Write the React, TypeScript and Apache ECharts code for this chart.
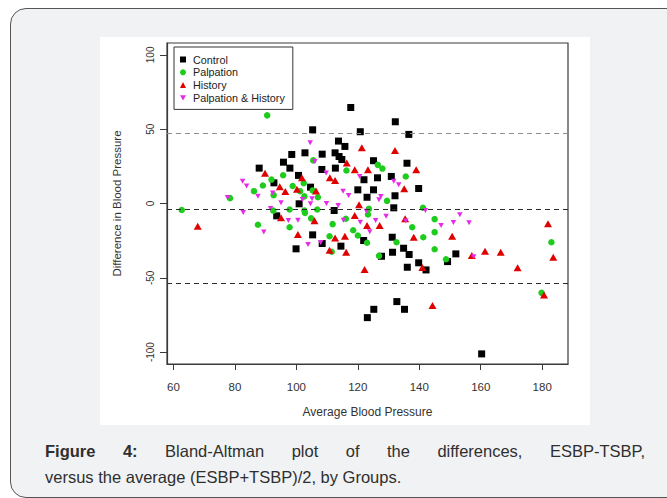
import React, { useEffect, useRef } from "react";
import * as echarts from "echarts";

const FONT = '"Liberation Sans", Arial, Helvetica, sans-serif';

const seriesNames = ["Control", "Palpation", "History", "Palpation & History"];

const controlPoints: number[][] = [
  [117.7, 64.6], [132.2, 55.0], [105.3, 49.6], [120.8, 48.3], [136.6, 46.5],
  [113.7, 42.0], [115.8, 38.4], [102.8, 34.1], [108.4, 33.2], [112.6, 34.1],
  [113.9, 31.6], [114.8, 29.6], [98.5, 33.0], [95.8, 27.8], [87.9, 23.8],
  [97.9, 23.8], [112.7, 23.8], [108.3, 22.9], [125.1, 28.8], [136.0, 27.1],
  [100.7, 18.9], [92.7, 13.9], [104.6, 11.0], [122.0, 16.0], [126.4, 17.3],
  [130.9, 18.2], [120.0, 9.2], [125.1, 9.2], [139.8, 10.1], [123.0, 4.2],
  [132.1, 5.2], [100.9, -0.2], [93.6, -8.3], [112.3, -4.7], [131.7, -2.9],
  [105.3, -21.1], [99.9, -30.5], [108.4, -26.9], [114.5, -28.7], [121.9, -24.9],
  [131.2, -22.7], [134.9, -30.1], [131.3, -32.8], [127.7, -35.5], [136.7, -34.3],
  [151.9, -33.9], [149.2, -39.1], [136.1, -42.9], [139.8, -39.9], [142.2, -44.7],
  [123.1, -76.8], [125.2, -71.2], [132.7, -66.0], [135.2, -71.2], [160.3, -101.2],
];

const palpationPoints: number[][] = [
  [90.5, 59.3], [62.7, -4.4], [78.4, 3.6], [86.2, 8.3], [89.1, 12.1],
  [91.9, 16.1], [95.7, 19.0], [92.6, 5.6], [98.8, 11.8], [101.2, 8.3],
  [102.6, 4.8], [102.4, 13.7], [97.8, -4.0], [102.6, -4.7], [87.5, -14.3],
  [97.8, -16.0], [104.8, -10.0], [106.8, -4.0], [105.3, 8.8], [105.5, 29.0],
  [111.8, -13.9], [110.8, -22.0], [111.5, -32.5], [116.1, -10.3], [116.3, 22.2],
  [92.5, -4.8], [126.5, 26.0], [128.0, 23.5], [135.6, 18.2], [107.0, 4.2],
  [129.5, 1.8], [141.2, -2.9], [118.5, -18.0], [120.0, -21.5], [123.3, -7.4],
  [123.0, -26.4], [126.9, -35.2], [132.6, -26.1], [137.7, -16.0], [141.3, -22.7],
  [145.0, -10.5], [145.0, -19.3], [145.0, -30.8], [148.7, -37.5], [183.0, -26.1],
  [179.8, -60.1], [102.8, -6.3], [123.6, -3.6],
];

const historyPoints: number[][] = [
  [67.9, -15.3], [89.8, 20.4], [94.6, 11.2], [96.4, 8.0], [100.2, 9.6],
  [95.0, -9.6], [105.9, -11.6], [100.5, -20.8], [110.8, -31.4], [116.2, -32.8],
  [112.6, -23.2], [115.8, -22.0], [106.4, 8.4], [110.9, 17.3], [112.6, 15.5],
  [116.4, 27.3], [121.3, 37.5], [132.1, 35.7], [119.0, 22.7], [123.3, 22.7],
  [139.0, 22.7], [135.1, 9.9], [101.8, 17.3], [120.4, -0.8], [119.0, -8.1],
  [123.0, -14.8], [127.1, -14.8], [138.2, -22.7], [150.7, -22.0], [135.4, -10.3],
  [122.2, -44.4], [141.0, -43.1], [157.1, -35.0], [161.4, -32.1], [166.5, -32.8],
  [172.0, -43.3], [181.9, -13.7], [183.6, -36.2], [180.6, -61.5], [144.3, -68.7],
];

const palpHistoryPoints: number[][] = [
  [77.6, 4.0], [82.5, 15.0], [83.8, 11.8], [82.7, -6.0], [87.5, 4.8],
  [89.4, -19.1], [92.3, 7.0], [91.6, -3.4], [95.0, 0.5], [97.4, -11.4],
  [100.5, -11.2], [102.0, 2.7], [103.8, -27.6], [104.5, 40.9], [106.0, 28.3],
  [109.7, 20.5], [109.8, 0.0], [107.9, -26.3], [113.6, -1.3], [115.2, 8.2],
  [117.0, 5.3], [115.3, -11.2], [105.1, 3.2], [120.6, 18.2], [127.5, 4.7],
  [131.7, 15.0], [133.3, 12.6], [122.8, -5.2], [126.9, 2.5], [104.6, -0.2],
  [123.9, -19.0], [129.2, -8.6], [135.6, -11.8], [142.0, -4.7], [147.1, -14.8],
  [151.1, -12.8], [153.2, -7.5], [156.2, -13.0], [157.7, -35.8], [120.8, -12.6],
  [125.8, -11.4],
];

// upper limit of agreement, mean difference, lower limit of agreement
const limitLines = [47.2, -3.6, -53.8];

const xTicks = [60, 80, 100, 120, 140, 160, 180];
const yTicks = [-100, -50, 0, 50, 100];

export default function App() {
  const ref = useRef<HTMLDivElement>(null);

  useEffect(() => {
    if (!ref.current) return;
    const chart = echarts.init(ref.current, null, { renderer: "svg" });
    const tickColor = "#3a3a3a";
    chart.setOption({
      animation: false,
      backgroundColor: "#ffffff",
      textStyle: { fontFamily: FONT },
      grid: {
        left: 67,
        right: 22,
        top: 6,
        bottom: 61,
        show: true,
        borderColor: "#3a3a3a",
        borderWidth: 1.2,
        backgroundColor: "transparent",
        outerBoundsMode: "none",
      },
      legend: {
        orient: "vertical",
        left: 74,
        top: 10,
        padding: [7, 8, 6, 6],
        itemGap: 1.8,
        itemWidth: 6,
        itemHeight: 6,
        borderColor: "#333",
        borderWidth: 1,
        borderRadius: 0,
        backgroundColor: "#fff",
        textStyle: {
          fontFamily: FONT,
          fontSize: 10.8,
          color: "#222",
          lineHeight: 10,
          padding: [0, 0, 0, 2],
        },
        data: [
          { name: seriesNames[0], icon: "rect" },
          { name: seriesNames[1], icon: "circle" },
          { name: seriesNames[2], icon: "triangle" },
          { name: seriesNames[3], icon: "path://M0,0L10,0L5,9Z" },
        ],
      },
      xAxis: {
        type: "value",
        min: 57.9,
        max: 188.4,
        name: "Average Blood Pressure",
        nameLocation: "middle",
        nameGap: 42,
        nameTextStyle: { fontFamily: FONT, fontSize: 12, color: "#333" },
        axisLine: { show: true, onZero: false, lineStyle: { color: tickColor, width: 1.2 } },
        splitLine: { show: false },
        axisTick: {
          show: true,
          length: 6,
          customValues: xTicks,
          lineStyle: { color: tickColor, width: 1 },
        },
        axisLabel: {
          customValues: xTicks,
          fontFamily: FONT,
          fontSize: 11.5,
          color: "#333",
          margin: 17,
        },
      },
      yAxis: {
        type: "value",
        min: -108,
        max: 108,
        name: "Difference in Blood Pressure",
        nameLocation: "middle",
        nameRotate: 90,
        nameGap: 44,
        nameTextStyle: { fontFamily: FONT, fontSize: 11.5, color: "#333" },
        axisLine: { show: true, onZero: false, lineStyle: { color: tickColor, width: 1.2 } },
        splitLine: { show: false },
        axisTick: {
          show: true,
          length: 7,
          customValues: yTicks,
          lineStyle: { color: tickColor, width: 1 },
        },
        axisLabel: {
          customValues: yTicks,
          rotate: 90,
          fontFamily: FONT,
          fontSize: 10,
          color: "#333",
          margin: 12,
        },
      },
      series: [
        {
          name: seriesNames[0],
          type: "scatter",
          data: controlPoints,
          symbol: "rect",
          symbolSize: 7,
          itemStyle: { color: "#000000", opacity: 1 },
          markLine: {
            silent: true,
            symbol: "none",
            label: { show: false },
            data: limitLines.map((v, i) => ({
              yAxis: v,
              lineStyle: {
                color: i === 0 ? "#8c8c8c" : "#2b2b2b",
                type: [5, 4],
                width: 1.2,
              },
            })),
          },
        },
        {
          name: seriesNames[1],
          type: "scatter",
          data: palpationPoints,
          symbol: "circle",
          symbolSize: 6.5,
          itemStyle: { color: "#1ecc1e", opacity: 1 },
        },
        {
          name: seriesNames[2],
          type: "scatter",
          data: historyPoints,
          symbol: "triangle",
          symbolSize: [8, 7],
          itemStyle: { color: "#e00000", opacity: 1 },
        },
        {
          name: seriesNames[3],
          type: "scatter",
          data: palpHistoryPoints,
          symbol: "triangle",
          symbolRotate: 180,
          symbolSize: [5.5, 5],
          itemStyle: { color: "#e82ae8", opacity: 1 },
        },
      ],
    });
    return () => chart.dispose();
  }, []);

  const captionStyle: React.CSSProperties = {
    fontFamily: FONT,
    fontSize: 16.5,
    color: "#2f2f2f",
    lineHeight: "26px",
    whiteSpace: "nowrap",
  };

  return (
    <div
      style={{
        position: "absolute",
        left: 0,
        top: 0,
        width: 667,
        height: 498,
        overflow: "hidden",
        background: "#ffffff",
      }}
    >
      <div
        style={{
          position: "absolute",
          left: 10,
          top: 8,
          width: 700,
          height: 490,
          boxSizing: "border-box",
          border: "1.5px solid #555",
          borderRadius: 16,
          background: "#f1f2f4",
        }}
      />
      <div
        ref={ref}
        style={{
          position: "absolute",
          left: 100,
          top: 37,
          width: 490,
          height: 388,
          background: "#ffffff",
        }}
      />
      <div
        style={{
          position: "absolute",
          left: 45,
          top: 438,
          width: 600,
        }}
      >
        <div style={{ ...captionStyle, textAlign: "justify", textAlignLast: "justify", whiteSpace: "normal" }}>
          <b>Figure 4:</b> Bland-Altman plot of the differences, ESBP-TSBP,
        </div>
        <div style={captionStyle}>versus the average (ESBP+TSBP)/2, by Groups.</div>
      </div>
    </div>
  );
}
